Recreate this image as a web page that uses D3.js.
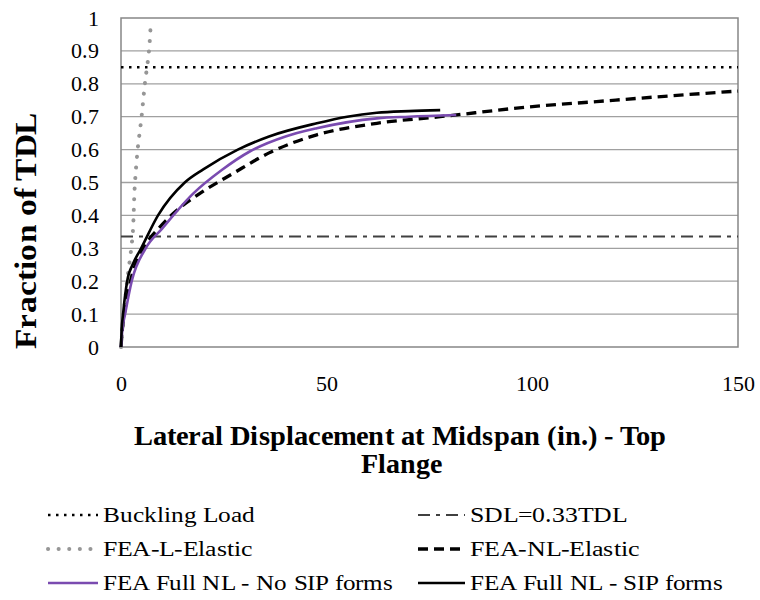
<!DOCTYPE html>
<html>
<head>
<meta charset="utf-8">
<script src="https://cdn.jsdelivr.net/npm/d3@7"></script>
<style>
  @font-face { font-family: 'ChartSerif'; font-weight: 400;
    src: local('Liberation Serif'), local('LiberationSerif'), local('LiberationSerif-Regular'), local('Times New Roman'), local('DejaVu Serif'), local('DejaVuSerif'); }
  @font-face { font-family: 'ChartSerif'; font-weight: 700;
    src: local('Liberation Serif Bold'), local('LiberationSerif-Bold'), local('Times New Roman Bold'), local('DejaVu Serif Bold'), local('DejaVuSerif-Bold'); }
  body { margin: 0; background: #fff; }
  svg { display: block; }
  svg text { font-family: 'ChartSerif', 'Liberation Serif', 'Times New Roman', 'DejaVu Serif', serif !important; fill: #000; }
</style>
</head>
<body>
<svg id="chart" width="760" height="600"></svg>
<script>
// ---------------- data ----------------
const yTickValues = [0, 0.1, 0.2, 0.3, 0.4, 0.5, 0.6, 0.7, 0.8, 0.9, 1];
const yTickLabels = ["0", "0.1", "0.2", "0.3", "0.4", "0.5", "0.6", "0.7", "0.8", "0.9", "1"];
const xTickValues = [0, 50, 100, 150];
const xTickLabels = ["0", "50", "100", "150"];

const bucklingLoad = 0.85;
const sdlLevel = 0.336;

// FEA-L-Elastic [displacement, fraction]
const feaLElastic = [[0,0],[1.5,0.2],[2.75,0.33],[3.4,0.5],[4.05,0.6],[5.0,0.7],[5.8,0.8],[6.8,0.9],[7.2,0.975]];
// FEA-NL-Elastic
const feaNLElastic = [[0,0],[0.3,0.05],[0.8,0.1],[2.3,0.2],[5.5,0.3],[9.5,0.365],[14,0.42],[19.2,0.467],[27.3,0.528],[36,0.59],[47.6,0.645],[62.2,0.68],[77.6,0.70],[99.4,0.73],[115.6,0.746],[130,0.76],[150,0.778]];
// FEA Full NL - No SIP forms
const feaFullNoSIP = [[0,0],[0.3,0.05],[1.0,0.1],[2.6,0.2],[6,0.3],[10,0.36],[17.6,0.467],[24.5,0.538],[31.4,0.595],[40,0.64],[47.6,0.665],[62.2,0.695],[70,0.70],[81.5,0.705]];
// FEA Full NL - SIP forms
const feaFullSIP = [[0,0],[0.15,0.05],[0.5,0.1],[1.5,0.2],[3,0.255],[4.9,0.3],[9,0.4],[15.5,0.5],[20,0.54],[28.4,0.6],[36,0.64],[47.6,0.68],[55,0.7],[62.2,0.712],[70,0.717],[77.6,0.72]];

const legendLabels = ["Buckling Load", "SDL=0.33TDL", "FEA-L-Elastic", "FEA-NL-Elastic", "FEA Full NL - No SIP forms", "FEA Full NL - SIP forms"];

// ---------------- styles ----------------
const FONT = "'ChartSerif', 'Liberation Serif', 'Times New Roman', 'DejaVu Serif', serif";
const styles = {
  buckling: { stroke: "#000", width: 2.5, dash: "2.5,5.5", cap: "butt" },
  sdl:      { stroke: "#404040", width: 2, dash: "12,6,4,6", cap: "butt" },
  lel:      { stroke: "#969696", width: 4, dash: "0.1,10.5", cap: "round" },
  nlel:     { stroke: "#000", width: 3.3, dash: "10,6", cap: "butt" },
  noSip:    { stroke: "#7a4bb0", width: 2.6, dash: null, cap: "butt" },
  sip:      { stroke: "#000", width: 2.6, dash: null, cap: "butt" }
};
const legendStyleKeys = ["buckling", "sdl", "lel", "nlel", "noSip", "sip"];
const legendTextWidths = [152, 157, 150, 170, 290, 253];

// ---------------- layout ----------------
const svg = d3.select("#chart");
const x = d3.scaleLinear().domain([0, 150]).range([121, 738]);
const y = d3.scaleLinear().domain([0, 1]).range([347, 18]);

// grid lines
svg.append("g").selectAll("line")
  .data(yTickValues.filter(v => v > 0 && v < 1))
  .join("line")
  .attr("x1", x(0)).attr("x2", x(150))
  .attr("y1", d => y(d)).attr("y2", d => y(d))
  .attr("stroke", "#a0a0a0").attr("stroke-width", 1.3);

// frame
svg.append("rect")
  .attr("x", x(0)).attr("y", y(1))
  .attr("width", x(150) - x(0)).attr("height", y(0) - y(1))
  .attr("fill", "none").attr("stroke", "#868686").attr("stroke-width", 1.5);

// axes
const yAxis = svg.append("g")
  .attr("transform", `translate(${x(0)},0)`)
  .call(d3.axisLeft(y).tickValues(yTickValues).tickFormat((d, i) => yTickLabels[i]).tickSize(0).tickPadding(22));
yAxis.attr("font-family", FONT);
yAxis.select(".domain").remove();
yAxis.selectAll("text")
  .attr("font-family", FONT)
  .attr("font-size", 22).attr("fill", "#000");

const xAxis = svg.append("g")
  .attr("transform", `translate(0,${y(0)})`)
  .call(d3.axisBottom(x).tickValues(xTickValues).tickFormat((d, i) => xTickLabels[i]).tickSize(0).tickPadding(28));
xAxis.attr("font-family", FONT);
xAxis.select(".domain").remove();
xAxis.selectAll("text")
  .attr("font-family", FONT)
  .attr("font-size", 22).attr("fill", "#000");

// lines
function styled(sel, s) {
  sel.attr("fill", "none").attr("stroke", s.stroke).attr("stroke-width", s.width)
     .attr("stroke-linecap", s.cap).attr("stroke-linejoin", "round");
  if (s.dash) sel.attr("stroke-dasharray", s.dash);
  return sel;
}
const line = d3.line().x(d => x(d[0])).y(d => y(d[1])).curve(d3.curveMonotoneX);
const hline = d3.line().x(d => x(d[0])).y(d => y(d[1]));

styled(svg.append("path").attr("d", hline([[0, sdlLevel], [150, sdlLevel]])), styles.sdl);
styled(svg.append("path").attr("d", hline([[0, bucklingLoad], [150, bucklingLoad]])), styles.buckling);
styled(svg.append("path").attr("d", d3.line().x(d => x(d[0])).y(d => y(d[1])).curve(d3.curveMonotoneY)(feaLElastic)), styles.lel);
styled(svg.append("path").attr("d", line(feaNLElastic)), styles.nlel);
styled(svg.append("path").attr("d", line(feaFullNoSIP)), styles.noSip);
styled(svg.append("path").attr("d", line(feaFullSIP)), styles.sip);

// axis titles
svg.append("text")
  .attr("transform", "translate(36,230.5) rotate(-90)")
  .attr("text-anchor", "middle")
  .attr("font-family", FONT)
  .attr("font-size", 31).attr("font-weight", "bold")
  .attr("textLength", 237).attr("lengthAdjust", "spacingAndGlyphs")
  .text("Fraction of TDL");

svg.append("text")
  .attr("x", 400).attr("y", 445)
  .attr("text-anchor", "middle")
  .attr("font-family", FONT)
  .attr("font-size", 28).attr("font-weight", "bold")
  .attr("textLength", 533).attr("lengthAdjust", "spacingAndGlyphs")
  .text("Lateral Displacement at Midspan (in.) - Top");
svg.append("text")
  .attr("x", 401).attr("y", 473)
  .attr("text-anchor", "middle")
  .attr("font-family", FONT)
  .attr("font-size", 28).attr("font-weight", "bold")
  .text("Flange");

// legend
const colX = [[48, 98, 103], [418, 465, 470]];
const rowY = [515, 549, 583];
legendLabels.forEach((lab, i) => {
  const c = i % 2, r = Math.floor(i / 2);
  const s = styles[legendStyleKeys[i]];
  styled(svg.append("path").attr("d", `M${colX[c][0]},${rowY[r]}H${colX[c][1]}`), s);
  svg.append("text")
    .attr("x", colX[c][2]).attr("y", rowY[r] + 7)
    .attr("font-family", FONT)
    .attr("font-size", 22)
    .attr("textLength", legendTextWidths[i]).attr("lengthAdjust", "spacingAndGlyphs")
    .text(lab);
});
</script>
</body>
</html>
